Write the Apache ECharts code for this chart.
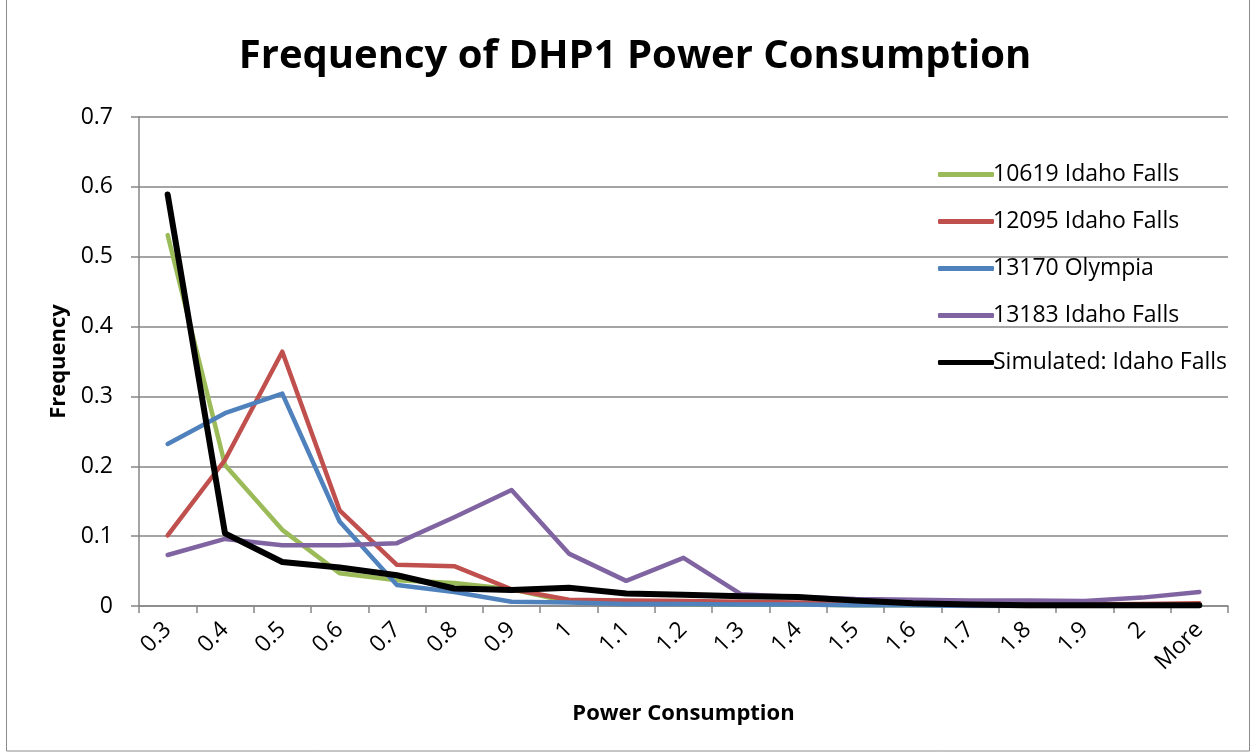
<!DOCTYPE html>
<html>
<head>
<meta charset="utf-8">
<script src="https://cdn.jsdelivr.net/npm/echarts@6/dist/echarts.min.js"></script>
<style>
  html, body { margin: 0; padding: 0; background: #fff; }
  #chart { width: 1253px; height: 753px; }
</style>
</head>
<body>
<div id="chart"></div>
<script>
// Power-consumption bins (upper bound of each bin)
const categories = ['0.3', '0.4', '0.5', '0.6', '0.7', '0.8', '0.9', '1', '1.1', '1.2',
  '1.3', '1.4', '1.5', '1.6', '1.7', '1.8', '1.9', '2', 'More'];

// Relative frequency per bin for each site
const idahoFalls10619 = [0.531, 0.202, 0.109, 0.047, 0.037, 0.033, 0.024, 0.006, 0.004, 0.003,
  0.002, 0.002, 0.001, 0.001, 0, 0, 0, 0, 0];
const idahoFalls12095 = [0.101, 0.209, 0.364, 0.137, 0.059, 0.057, 0.024, 0.009, 0.008, 0.007,
  0.006, 0.005, 0.004, 0.003, 0.003, 0.002, 0.002, 0.003, 0.004];
const olympia13170 = [0.232, 0.276, 0.304, 0.121, 0.030, 0.020, 0.006, 0.005, 0.003, 0.003,
  0.002, 0.002, 0.001, 0.001, 0, 0, 0, 0, 0];
const idahoFalls13183 = [0.073, 0.096, 0.087, 0.087, 0.090, 0.127, 0.166, 0.075, 0.036, 0.069,
  0.017, 0.013, 0.010, 0.009, 0.008, 0.008, 0.007, 0.012, 0.020];
const simulatedIdahoFalls = [0.589, 0.104, 0.063, 0.055, 0.044, 0.025, 0.023, 0.026, 0.018, 0.016,
  0.014, 0.013, 0.008, 0.004, 0.002, 0.001, 0.001, 0.001, 0.001];

const seriesNames = ['10619 Idaho Falls', '12095 Idaho Falls', '13170 Olympia',
  '13183 Idaho Falls', 'Simulated: Idaho Falls'];
const seriesData = [idahoFalls10619, idahoFalls12095, olympia13170, idahoFalls13183, simulatedIdahoFalls];
const seriesColors = ['#9BBB59', '#C0504D', '#4F81BD', '#8064A2', '#000000'];
const seriesWidths = [4.5, 4.5, 4.5, 4.5, 6];

const yTicks = { min: 0, max: 0.7, interval: 0.1 };

const FONT = '"Open Sans", Lato, sans-serif';
const AXIS_GREY = '#868686';

const chart = echarts.init(document.getElementById('chart'), null, { renderer: 'canvas' });

chart.setOption({
  backgroundColor: '#ffffff',
  animation: false,
  title: {
    text: 'Frequency of DHP1 Power Consumption',
    left: 630,
    textAlign: 'center',
    top: 32,
    textStyle: { fontFamily: FONT, fontWeight: 'bold', fontSize: 40, color: '#000' }
  },
  legend: {
    orient: 'vertical',
    left: 933,
    top: 158,
    icon: 'roundRect',
    itemWidth: 56,
    itemHeight: 5,
    itemGap: 24,
    textStyle: { fontFamily: FONT, fontSize: 23, color: '#000', padding: [0, 0, 0, -6] },
    data: seriesNames
  },
  grid: { left: 139, right: 25, top: 117, bottom: 147, containLabel: false },
  xAxis: {
    type: 'category',
    data: categories,
    boundaryGap: true,
    name: 'Power Consumption',
    nameLocation: 'middle',
    nameGap: 97,
    nameTextStyle: { fontFamily: FONT, fontWeight: 'bold', fontSize: 22, color: '#000' },
    axisLine: { lineStyle: { color: AXIS_GREY, width: 1.5 } },
    axisTick: { show: true, length: 7, lineStyle: { color: AXIS_GREY, width: 1.5 } },
    axisLabel: { rotate: 45, margin: 20, fontFamily: FONT, fontSize: 23, color: '#000', interval: 0 },
    splitLine: { show: false }
  },
  yAxis: {
    type: 'value',
    min: yTicks.min,
    max: yTicks.max,
    interval: yTicks.interval,
    name: 'Frequency',
    nameLocation: 'middle',
    nameGap: 68,
    nameRotate: 90,
    nameTextStyle: { fontFamily: FONT, fontWeight: 'bold', fontSize: 22, color: '#000' },
    axisLine: { show: true, lineStyle: { color: AXIS_GREY, width: 1.5 } },
    axisTick: { show: true, length: 8, lineStyle: { color: AXIS_GREY, width: 1.5 } },
    axisLabel: {
      margin: 26, fontFamily: FONT, fontSize: 23, color: '#000',
      formatter: v => (Math.round(v * 10) / 10).toString()
    },
    splitLine: { show: true, lineStyle: { color: AXIS_GREY, width: 1.5 } }
  },
  series: seriesNames.map((name, i) => ({
    name,
    type: 'line',
    data: seriesData[i],
    symbol: 'none',
    z: 2 + i,
    lineStyle: { color: seriesColors[i], width: seriesWidths[i], cap: 'round', join: 'round' },
    itemStyle: { color: seriesColors[i] }
  })),
  graphic: [{
    type: 'rect',
    shape: { x: 6.5, y: -2, width: 1243, height: 753 },
    style: { fill: 'none', stroke: '#8c8c8c', lineWidth: 1 },
    silent: true
  }]
});
</script>
</body>
</html>
